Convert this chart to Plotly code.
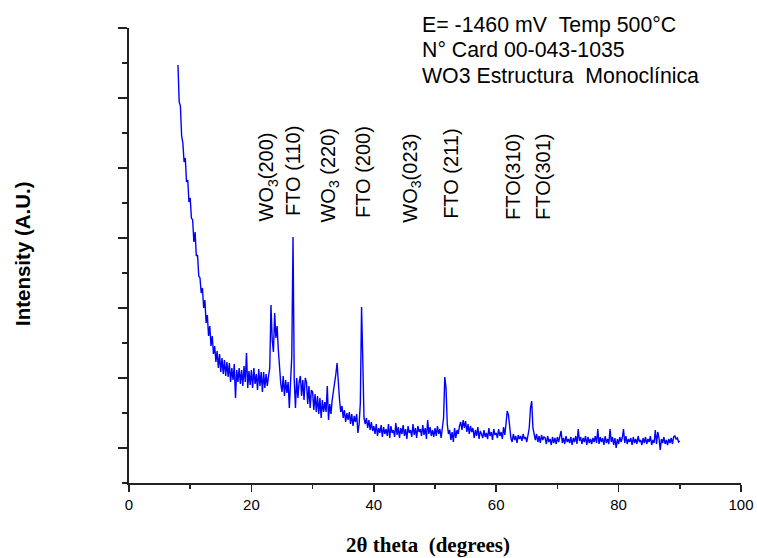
import numpy as np
import plotly.graph_objects as go

# --- Data -----------------------------------------------------------------
TWO_THETA_START = 8.0     # degrees
TWO_THETA_STEP = 0.2      # degrees
TWO_THETA_END = 90.0

# Intensity (a.u.), one row per 2 degrees (8.0 ... 89.8), last value at 90.0
intensity = [
    383, 346, 342, 312, 305, 286, 290, 266, 268, 246,   # 8
    250, 230, 228, 206, 216, 192, 193, 172, 170, 155,   # 10
    160, 140, 148, 125, 133, 112, 122, 102, 112, 94,    # 12
    102, 86, 97, 80, 94, 76, 90, 74, 88, 72,            # 14
    86, 71, 85, 66, 80, 68, 84, 50, 78, 66,             # 16
    80, 64, 78, 62, 82, 66, 95, 60, 77, 63,             # 18
    78, 60, 80, 64, 74, 58, 79, 62, 76, 56,             # 20
    76, 60, 74, 62, 72, 80, 143, 108, 96, 135,          # 22
    110, 122, 98, 78, 64, 56, 72, 52, 68, 55,           # 24
    66, 40, 62, 92, 211, 68, 40, 70, 50, 66,            # 26
    72, 52, 68, 48, 70, 66, 44, 62, 40, 58,             # 28
    56, 38, 54, 36, 52, 34, 50, 30, 48, 36,             # 30
    46, 36, 62, 28, 44, 34, 48, 56, 66, 74,             # 32
    85, 64, 48, 36, 42, 30, 38, 26, 35, 28,             # 34
    36, 24, 34, 22, 32, 26, 34, 15, 24, 45,             # 36
    141, 88, 30, 24, 30, 20, 28, 18, 26, 17,            # 38
    22, 14, 24, 12, 20, 15, 23, 11, 21, 14,             # 40
    19, 12, 24, 10, 22, 15, 18, 11, 25, 13,             # 42
    21, 10, 20, 14, 23, 12, 19, 9, 22, 15,              # 44
    18, 11, 24, 13, 20, 10, 22, 16, 19, 12,             # 46
    23, 13, 20, 9, 28, 14, 21, 12, 18, 11,              # 48
    20, 12, 22, 14, 19, 10, 22, 30, 71, 60,             # 50
    24, 14, 18, 8, 16, 6, 20, 10, 18, 14,               # 52
    22, 26, 18, 28, 20, 27, 16, 24, 14, 22,             # 54
    16, 20, 10, 18, 12, 21, 9, 17, 14, 10,              # 56
    18, 11, 15, 9, 20, 12, 16, 8, 19, 13,               # 58
    15, 10, 19, 12, 16, 9, 21, 13, 24, 37,              # 60
    33, 17, 10, 6, 14, 8, 12, 5, 13, 9,                 # 62
    12, 7, 14, 9, 11, 6, 15, 20, 40, 47,                # 64
    20, 12, 8, 14, 6, 12, 5, 13, 8, 11,                 # 66
    10, 4, 12, 6, 9, 3, 11, 5, 10, 4,                   # 68
    11, 6, 12, 17, 5, 10, 4, 12, 6, 9,                  # 70
    5, 11, 3, 10, 6, 12, 4, 19, 7, 11,                  # 72
    4, 10, 6, 12, 3, 11, 5, 9, 4, 10,                   # 74
    6, 12, 5, 19, 4, 11, 6, 10, 3, 12,                  # 76
    5, 9, 4, 19, 6, 11, 3, 10, 0, 9,                    # 78
    4, 11, 6, 10, 19, 5, 12, 4, 9, 6,                   # 80
    10, 3, 11, 5, 9, 4, 12, 6, 8, 3,                    # 82
    10, 5, 11, 4, 9, 6, 12, 3, 8, 5,                    # 84
    18, 4, 16, 10, -2, 9, 5, 11, 4, 8,                  # 86
    3, 9, 5, 10, 4, 11, 12, 9, 10, 6,                   # 88
    7,                                                  # 90
]

peak_labels = ["WO<sub>3</sub>(200)", "FTO (110)", "WO<sub>3</sub> (220)", "FTO (200)",
               "WO<sub>3</sub>(023)", "FTO (211)", "FTO(310)", "FTO(301)"]
info_lines = ["E= -1460 mV\u00a0\u00a0Temp 500°C",
              "N° Card 00-043-1035",
              "WO3 Estructura\u00a0\u00a0Monoclínica"]
x_ticks = [0, 20, 40, 60, 80, 100]

# --- Figure ------------------------------------------------------------------
two_theta = np.round(np.arange(TWO_THETA_START, TWO_THETA_END + 1e-9, TWO_THETA_STEP), 1)

fig = go.Figure()
fig.add_trace(go.Scatter(x=two_theta, y=intensity, mode="lines",
                         line=dict(color="#0000ff", width=1.4),
                         showlegend=False, hoverinfo="skip"))

SANS = "Arial, Liberation Sans, sans-serif"
SERIF = "Times New Roman, Liberation Serif, serif"

L, T, W, H = 129, 28, 757, 558
PLOT_W, PLOT_H = 612, 455
B = H - T - PLOT_H


def px(xpage):
    return (xpage - L) / PLOT_W


def py(ypage):
    return (T + PLOT_H - ypage) / PLOT_H


label_x = [22.7, 26.72, 32.6, 38.15, 46.1, 52.59, 62.65, 67.55]
label_y = [271.5, 276.5, 272, 276.5, 269.5, 274, 271.5, 271.5]
annotations = []
for t, lx, ly in zip(peak_labels, label_x, label_y):
    annotations.append(dict(text=t, x=lx, y=ly, xref="x", yref="y", textangle=-90,
                            showarrow=False, xanchor="center", yanchor="middle",
                            font=dict(family=SANS, size=20, color="black")))

for t, iy in zip(info_lines, [24.7, 50.3, 76.3]):
    annotations.append(dict(text=t, x=px(420), y=py(iy), xref="paper", yref="paper",
                            showarrow=False, xanchor="left", yanchor="middle",
                            font=dict(family=SANS, size=21.3, color="black")))

annotations.append(dict(text="<b>2θ theta\u00a0\u00a0(degrees)</b>",
                        x=px(428), y=py(545),
                        xref="paper", yref="paper", showarrow=False,
                        xanchor="center", yanchor="middle",
                        font=dict(family=SERIF, size=21, color="black")))
annotations.append(dict(text="<b>Intensity (A.U.)</b>", textangle=-90,
                        x=px(22), y=py(254),
                        xref="paper", yref="paper", showarrow=False,
                        xanchor="center", yanchor="middle",
                        font=dict(family=SANS, size=20.5, color="black")))

fig.update_layout(
    width=W, height=H,
    margin=dict(l=L, r=W - L - PLOT_W, t=T, b=B, autoexpand=False),
    paper_bgcolor="white", plot_bgcolor="white",
    annotations=annotations,
    xaxis=dict(range=[0, 100], tickmode="array", tickvals=x_ticks,
               ticktext=[str(v) for v in x_ticks],
               ticks="outside", ticklen=7, tickwidth=1.5, tickcolor="#222",
               showline=True, linecolor="#222", linewidth=2,
               showgrid=False, zeroline=False,
               tickfont=dict(family=SANS, size=15, color="black"),
               minor=dict(tick0=0, dtick=10, ticks="outside", ticklen=4,
                          tickwidth=1.5, tickcolor="#222", showgrid=False)),
    yaxis=dict(range=[-35, 420], tick0=0, dtick=70,
               ticks="outside", ticklen=9, tickwidth=1.5, tickcolor="#222",
               showline=True, linecolor="#222", linewidth=2,
               showgrid=False, zeroline=False, showticklabels=False,
               minor=dict(tick0=0, dtick=35, ticks="outside", ticklen=5,
                          tickwidth=1.5, tickcolor="#222", showgrid=False)),
)

fig.write_html("out.html",
               config={"displayModeBar": False, "staticPlot": True},
               post_script="document.body.style.margin='0';"
                           "document.body.style.overflow='hidden';")
